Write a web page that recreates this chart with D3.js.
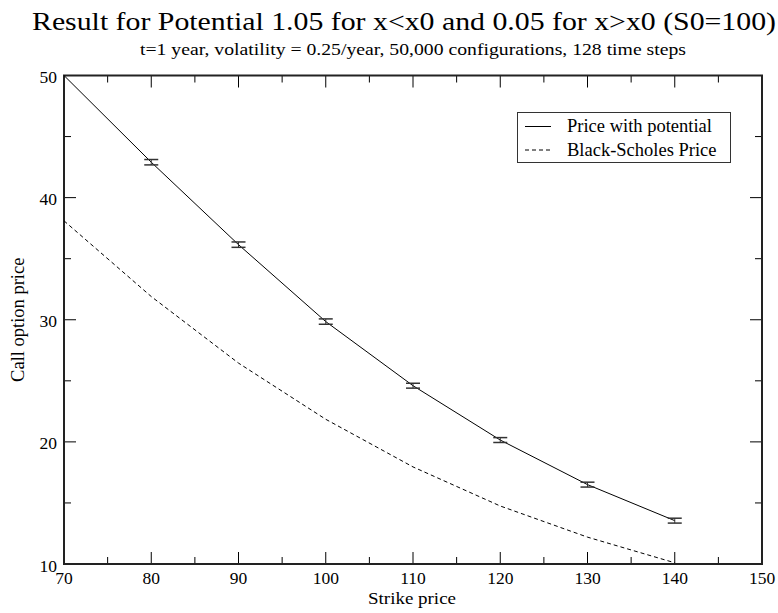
<!DOCTYPE html>
<html lang="en">
<head>
<meta charset="UTF-8">
<title>Call option price</title>
<style>
  body { margin: 0; background: #fff; }
  text { font-family: "Liberation Serif", "Times New Roman", serif; fill: #000; }
</style>
</head>
<body>
<script src="https://cdn.jsdelivr.net/npm/d3@7"></script>
<script>
  // data
  const strikes = [70, 80, 90, 100, 110, 120, 130, 140];
  const pricePotential = [50.0, 42.9, 36.15, 29.85, 24.6, 20.15, 16.5, 13.55];
  const priceErr = [0, 0.22, 0.22, 0.22, 0.2, 0.2, 0.2, 0.2];
  const priceBS = [38.1, 31.9, 26.45, 21.85, 17.95, 14.75, 12.2, 10.1];
  const xTicks = [70, 80, 90, 100, 110, 120, 130, 140, 150];
  const yTicks = [10, 20, 30, 40, 50];
  const legendLabels = ["Price with potential", "Black-Scholes Price"];

  const width = 778, height = 613;
  const pLeft = 64, pRight = 762, pTop = 75.5, pBottom = 564;

  const svg = d3.select("body").append("svg")
    .attr("width", width)
    .attr("height", height);

  const x = d3.scaleLinear().domain([70, 150]).range([pLeft, pRight]);
  const y = d3.scaleLinear().domain([10, 50]).range([pBottom, pTop]);

  // title (the original font is a bit wider than Times, so stretch to its width)
  svg.append("text")
    .attr("x", 32).attr("y", 30)
    .attr("textLength", 744).attr("lengthAdjust", "spacingAndGlyphs")
    .style("font-size", "26px")
    .text("Result for Potential 1.05 for x<x0 and 0.05 for x>x0 (S0=100)");
  svg.append("text")
    .attr("x", 140).attr("y", 55)
    .attr("textLength", 546).attr("lengthAdjust", "spacingAndGlyphs")
    .style("font-size", "17.5px")
    .text("t=1 year, volatility = 0.25/year, 50,000 configurations, 128 time steps");

  // ticks, pointing inward on all four sides
  const minorX = d3.range(75, 150, 10);
  const minorY = d3.range(15, 50, 10);
  const tickG = svg.append("g").attr("stroke", "#000").attr("stroke-width", 1);
  function xtick(v, len) {
    tickG.append("line").attr("x1", x(v)).attr("x2", x(v)).attr("y1", pBottom).attr("y2", pBottom - len);
    tickG.append("line").attr("x1", x(v)).attr("x2", x(v)).attr("y1", pTop).attr("y2", pTop + len);
  }
  function ytick(v, len) {
    tickG.append("line").attr("y1", y(v)).attr("y2", y(v)).attr("x1", pLeft).attr("x2", pLeft + len);
    tickG.append("line").attr("y1", y(v)).attr("y2", y(v)).attr("x1", pRight).attr("x2", pRight - len);
  }
  xTicks.forEach(v => xtick(v, 12));
  minorX.forEach(v => xtick(v, 7));
  yTicks.forEach(v => ytick(v, 12));
  minorY.forEach(v => ytick(v, 7));

  // frame
  svg.append("rect")
    .attr("x", pLeft).attr("y", pTop)
    .attr("width", pRight - pLeft).attr("height", pBottom - pTop)
    .attr("fill", "none").attr("stroke", "#222").attr("stroke-width", 2);

  // tick labels
  svg.append("g").selectAll("text").data(xTicks).enter().append("text")
    .attr("x", d => x(d)).attr("y", pBottom + 20)
    .attr("text-anchor", "middle")
    .style("font-size", "17.5px")
    .text(d => d);
  svg.append("g").selectAll("text").data(yTicks).enter().append("text")
    .attr("x", pLeft - 7).attr("y", d => y(d) + 7.5)
    .attr("text-anchor", "end")
    .style("font-size", "17.5px")
    .text(d => d);

  // axis labels
  svg.append("text")
    .attr("x", 412).attr("y", 604)
    .attr("text-anchor", "middle")
    .attr("textLength", 88).attr("lengthAdjust", "spacingAndGlyphs")
    .style("font-size", "17px")
    .text("Strike price");
  svg.append("text")
    .attr("transform", "translate(24," + (pTop + pBottom) / 2 + ") rotate(-90)")
    .attr("text-anchor", "middle")
    .style("font-size", "18.5px")
    .text("Call option price");

  // lines
  const line = d3.line().x((d, i) => x(strikes[i])).y(d => y(d));
  svg.append("path").datum(priceBS)
    .attr("d", line)
    .attr("fill", "none").attr("stroke", "#000").attr("stroke-width", 1)
    .attr("stroke-dasharray", "4,3");
  svg.append("path").datum(pricePotential)
    .attr("d", line)
    .attr("fill", "none").attr("stroke", "#000").attr("stroke-width", 1);

  // error bars
  const eb = svg.append("g").attr("stroke", "#333").attr("stroke-width", 1.5);
  strikes.forEach((s, i) => {
    if (priceErr[i] <= 0) return;
    const cx = x(s), y0 = y(pricePotential[i] - priceErr[i]), y1 = y(pricePotential[i] + priceErr[i]);
    eb.append("line").attr("x1", cx).attr("x2", cx).attr("y1", y0).attr("y2", y1).attr("stroke-width", 1);
    eb.append("line").attr("x1", cx - 7).attr("x2", cx + 7).attr("y1", y0).attr("y2", y0);
    eb.append("line").attr("x1", cx - 7).attr("x2", cx + 7).attr("y1", y1).attr("y2", y1);
  });

  // legend
  const lg = svg.append("g");
  lg.append("rect")
    .attr("x", 517.5).attr("y", 112.5).attr("width", 213).attr("height", 50)
    .attr("fill", "#fff").attr("stroke", "#333").attr("stroke-width", 1);
  legendLabels.forEach((t, i) => {
    const ly = 126.5 + i * 23.5;
    lg.append("line")
      .attr("x1", 525).attr("x2", 551).attr("y1", ly).attr("y2", ly)
      .attr("stroke", "#000").attr("stroke-width", 1)
      .attr("stroke-dasharray", i === 1 ? "4,3" : null);
    lg.append("text")
      .attr("x", 567).attr("y", ly + 5.5)
      .style("font-size", "18.5px")
      .text(t);
  });
</script>
</body>
</html>
